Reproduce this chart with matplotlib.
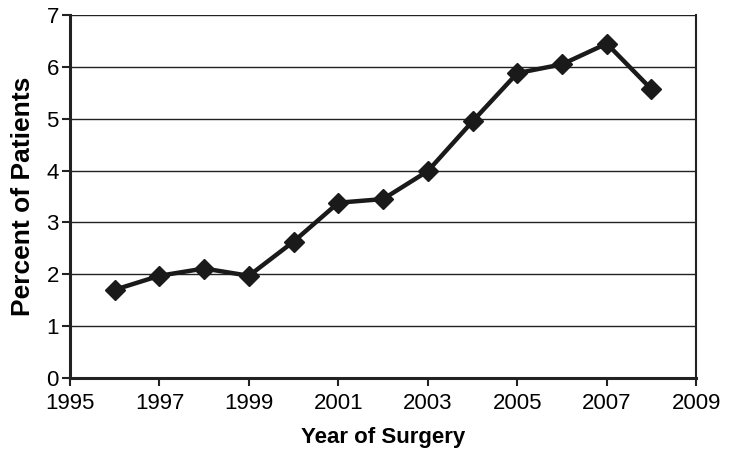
import matplotlib
matplotlib.use("Agg")
import matplotlib.pyplot as plt

# data
years = [1996, 1997, 1998, 1999, 2000, 2001, 2002, 2003, 2004, 2005, 2006, 2007, 2008]
percent = [1.70, 1.97, 2.11, 1.97, 2.63, 3.38, 3.45, 3.99, 4.95, 5.88, 6.05, 6.45, 5.57]
xticks = [1995, 1997, 1999, 2001, 2003, 2005, 2007, 2009]
yticks = [0, 1, 2, 3, 4, 5, 6, 7]

plt.rcParams['font.family'] = ['Liberation Sans', 'DejaVu Sans']

fig = plt.figure(figsize=(7.29, 4.58), dpi=100)
ax = fig.add_axes([0.096, 0.175, 0.859, 0.792])

for y in yticks[1:]:
    ax.axhline(y, color='#222222', lw=1.0, zorder=1)

ax.plot(years, percent, color='#1a1a1a', lw=3.2, marker='D', markersize=10,
        markerfacecolor='#1a1a1a', markeredgecolor='#1a1a1a', zorder=3)

ax.set_xlim(1995, 2009)
ax.set_ylim(0, 7)
ax.set_xticks(xticks)
ax.set_yticks(yticks)
ax.tick_params(axis='both', direction='out', length=6, width=1.5, labelsize=16, color='#222222')
ax.tick_params(axis='x', pad=5)
ax.tick_params(axis='y', pad=2)

for s in ['left', 'bottom']:
    ax.spines[s].set_linewidth(2.2)
    ax.spines[s].set_color('#222222')
ax.spines['right'].set_linewidth(1.5)
ax.spines['right'].set_color('#222222')
ax.spines['top'].set_visible(False)

ax.set_xlabel('Year of Surgery', fontsize=16, fontweight='bold', labelpad=9)
ax.set_ylabel('Percent of Patients', fontsize=19, fontweight='bold', labelpad=8)

fig.savefig('out.png', dpi=100)
